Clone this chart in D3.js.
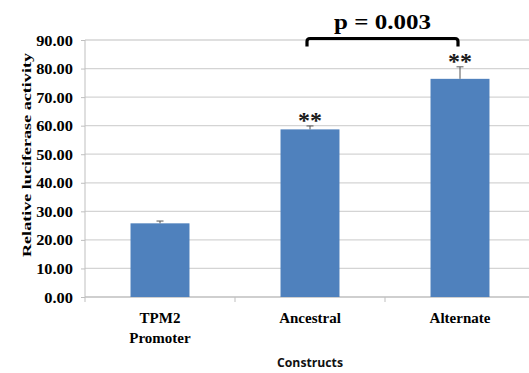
<!DOCTYPE html>
<html><head><meta charset="utf-8">
<script src="https://cdn.jsdelivr.net/npm/d3@7"></script>
<style>body{margin:0;background:#fff;} svg{display:block;}</style>
</head><body>
<svg id="c" width="529" height="373"></svg>
<script>
const categories = [["TPM2","Promoter"],["Ancestral"],["Alternate"]];
const values = [25.8, 58.7, 76.4];
const errors = [0.8, 1.2, 4.2];
const stars = ["", "**", "**"];
const yTicks = [0,10,20,30,40,50,60,70,80,90];
const pLabel = "p = 0.003";
const yTitle = "Relative luciferase activity";
const xTitle = "Constructs";

(function(){
const svg = d3.select("#c");
const mLeft = 85, mRight = 535, mTop = 40, mBottom = 297;
const serif = "'Liberation Serif','Times New Roman',serif";

const x = d3.scaleBand().domain(d3.range(categories.length)).range([mLeft, mRight])
  .paddingInner(0.607).paddingOuter(0.3035);
const y = d3.scaleLinear().domain([0, 90]).range([mBottom, mTop]);

// gridlines
svg.append("g").selectAll("line").data(yTicks.filter(d => d > 0)).join("line")
  .attr("x1", mLeft).attr("x2", 529).attr("y1", d => y(d)).attr("y2", d => y(d))
  .attr("stroke", "#d4d4d4").attr("stroke-width", 1.3);

// y axis
const yAxis = svg.append("g").attr("transform", `translate(${mLeft},0)`)
  .call(d3.axisLeft(y).tickValues(yTicks).tickSize(4).tickFormat(d3.format(".2f")));
yAxis.select(".domain").attr("stroke", "#bfbfbf").attr("d", `M0,${mTop}V${mBottom+5}`);
yAxis.selectAll(".tick line").attr("stroke", "#bfbfbf");
yAxis.selectAll(".tick text")
  .attr("x", null).attr("dy", null)
  .attr("transform", "translate(-12,5) scale(1.13,1)")
  .attr("font-family", serif).attr("font-weight", "bold").attr("font-size", 14.5)
  .attr("fill", "#000").attr("text-anchor", "end");

// x axis
const bandStep = x.step();
const xAxisG = svg.append("g");
xAxisG.append("line").attr("x1", mLeft).attr("x2", 529).attr("y1", mBottom).attr("y2", mBottom)
  .attr("stroke", "#bfbfbf").attr("stroke-width", 1.3);
xAxisG.selectAll("line.t").data(d3.range(1, categories.length)).join("line").attr("class","t")
  .attr("x1", i => x(i) - (bandStep - x.bandwidth())/2).attr("x2", i => x(i) - (bandStep - x.bandwidth())/2)
  .attr("y1", mBottom).attr("y2", mBottom + 5).attr("stroke", "#bfbfbf");

// bars
svg.append("g").selectAll("rect").data(values).join("rect")
  .attr("x", (d,i) => x(i)).attr("width", x.bandwidth())
  .attr("y", d => y(d)).attr("height", d => y(0) - y(d))
  .attr("fill", "#4f81bd");

// error bars
const eg = svg.append("g").attr("stroke", "#555").attr("stroke-width", 1);
values.forEach((v,i) => {
  const cx = x(i) + x.bandwidth()/2;
  eg.append("line").attr("x1", cx).attr("x2", cx).attr("y1", y(v)).attr("y2", y(v+errors[i]));
  eg.append("line").attr("x1", cx-3.5).attr("x2", cx+3.5).attr("y1", y(v+errors[i])).attr("y2", y(v+errors[i]));
});

// stars
svg.append("g").selectAll("text").data(values).join("text")
  .attr("x", (d,i) => x(i) + x.bandwidth()/2)
  .attr("y", (d,i) => y(d + errors[i]) + 2.5)
  .attr("text-anchor", "middle").attr("font-family", serif).attr("font-weight", "bold")
  .attr("font-size", 24).attr("fill", "#1a1a1a")
  .text((d,i) => stars[i]);

// category labels
const cl = svg.append("g");
categories.forEach((lines,i) => {
  const t = cl.append("text").attr("text-anchor", "middle")
    .attr("font-family", serif).attr("font-weight", "bold").attr("font-size", 15).attr("fill", "#000");
  lines.forEach((ln,j) => t.append("tspan").attr("x", x(i) + x.bandwidth()/2).attr("y", 323 + j*20).text(ln));
});

// bracket
const bx1 = x(1) + x.bandwidth()/2 - 3, bx2 = x(2) + x.bandwidth()/2 - 2;
const by = 38.5, r = 3;
svg.append("path")
  .attr("d", `M${bx1},${by+8}V${by+r}Q${bx1},${by} ${bx1+r},${by}H${bx2-r}Q${bx2},${by} ${bx2},${by+r}V${by+8}`)
  .attr("fill", "none").attr("stroke", "#000").attr("stroke-width", 3.2);
svg.append("text")
  .attr("transform", `translate(${(bx1+bx2)/2},29) scale(1.22,1)`)
  .attr("text-anchor", "middle").attr("font-family", serif).attr("font-weight", "bold")
  .attr("font-size", 20.5).attr("fill", "#000").text(pLabel);

// y title
svg.append("text").attr("transform", "translate(31,155) rotate(-90)")
  .attr("text-anchor", "middle").attr("font-family", serif).attr("font-weight", "bold")
  .attr("font-size", 13).attr("textLength", 204).attr("lengthAdjust", "spacingAndGlyphs")
  .attr("fill", "#000").text(yTitle);

// x title
svg.append("text").attr("x", 310).attr("y", 367)
  .attr("text-anchor", "middle").attr("font-family", "'Open Sans','Liberation Sans',sans-serif")
  .attr("font-weight", "bold").attr("font-size", 12).attr("textLength", 66).attr("lengthAdjust", "spacingAndGlyphs")
  .attr("fill", "#111").text(xTitle);
})();
</script>
</body></html>
